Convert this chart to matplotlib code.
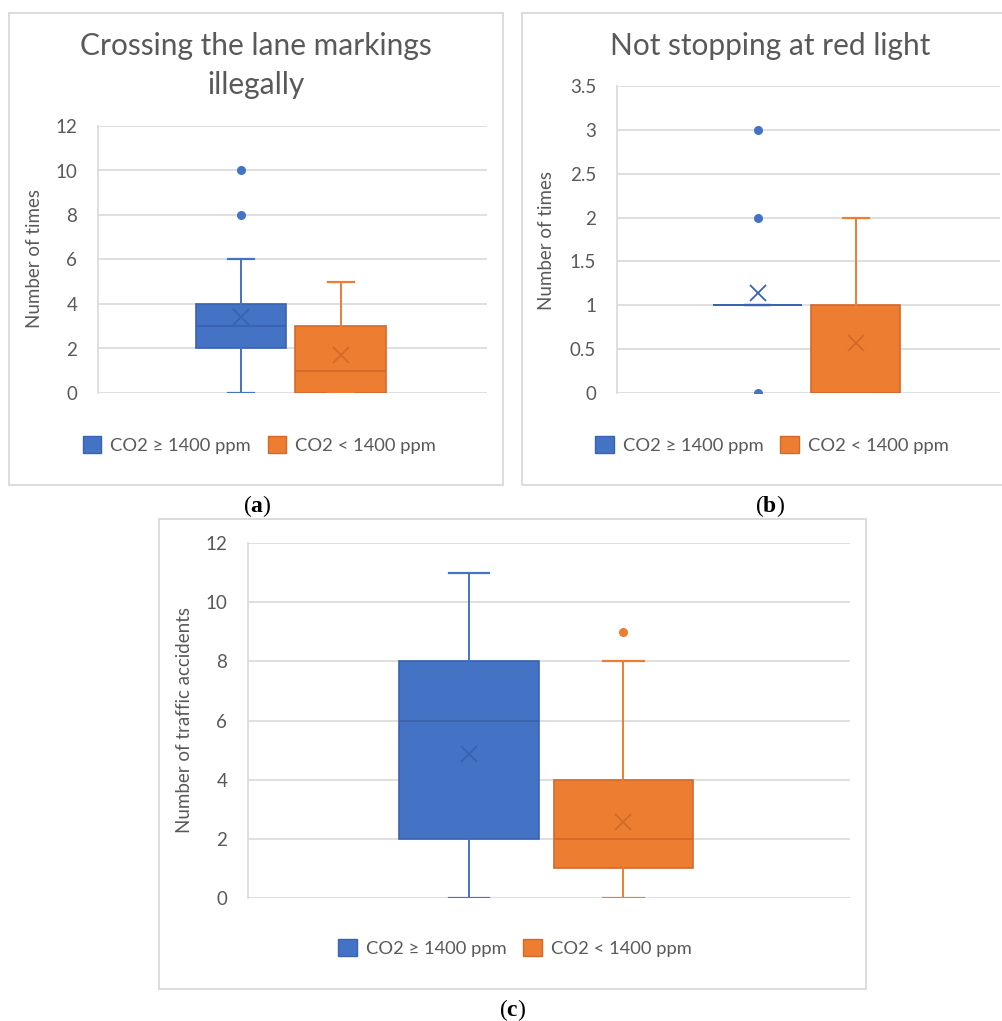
import matplotlib
matplotlib.use("Agg")
import matplotlib.pyplot as plt
from matplotlib.patches import Rectangle, Patch

plt.rcParams['font.family'] = ['Lato', 'DejaVu Sans']
plt.rcParams['mathtext.fontset'] = 'custom'
plt.rcParams['mathtext.rm'] = 'Liberation Serif'
plt.rcParams['mathtext.bf'] = 'Liberation Serif:bold'

# ---------------- data ----------------
series = ['CO2 \u2265 1400 ppm', 'CO2 < 1400 ppm']

a_title = 'Crossing the lane markings\nillegally'
a_whislo = [0, 0]
a_q1 = [2, 0]
a_med = [3, 1]
a_q3 = [4, 3]
a_whishi = [6, 5]
a_mean = [3.43, 1.71]
a_fliers = [[8, 10], []]
a_yticks = [0, 2, 4, 6, 8, 10, 12]
a_yticklabels = ['0', '2', '4', '6', '8', '10', '12']

b_title = 'Not stopping at red light'
b_whislo = [1, 0]
b_q1 = [1, 0]
b_med = [1, 0]
b_q3 = [1, 1]
b_whishi = [1, 2]
b_mean = [1.14, 0.57]
b_fliers = [[0, 2, 3], []]
b_yticks = [0, 0.5, 1, 1.5, 2, 2.5, 3, 3.5]
b_yticklabels = ['0', '0.5', '1', '1.5', '2', '2.5', '3', '3.5']

c_whislo = [0, 0]
c_q1 = [2, 1]
c_med = [6, 2]
c_q3 = [8, 4]
c_whishi = [11, 8]
c_mean = [4.87, 2.57]
c_fliers = [[], [9]]
c_yticks = [0, 2, 4, 6, 8, 10, 12]
c_yticklabels = ['0', '2', '4', '6', '8', '10', '12']

ylabel_ab = 'Number of times'
ylabel_c = 'Number of traffic accidents'
captions = ['a', 'b', 'c']

# ---------------- style ----------------
W, H = 1003, 1021
FACE = ['#4472C4', '#ED7D31']
EDGE = ['#3A63AF', '#D3692A']
TXT = '#595959'
GRID = '#D9D9D9'
TICK_FS = 13.5
LEG_FS = 13.2
YL_FS = 13.5
TITLE_FS = 21.5

fig = plt.figure(figsize=(W / 100, H / 100), dpi=100)
fig.patch.set_facecolor('white')


def rect(l, r, t, b):
    return [l / W, 1 - b / H, (r - l) / W, (b - t) / H]


def frame(l, r, t, b):
    fig.patches.append(Rectangle((l / W, 1 - b / H), (r - l) / W, (b - t) / H,
                                 transform=fig.transFigure, fill=False,
                                 edgecolor=GRID, linewidth=1.3, zorder=0))


positions = [1, 2]
XLIM = (-0.43, 3.466)
BOXW = 0.905


def draw_box(ax, whislo, q1, med, q3, whishi, mean, fliers, yticks, yticklabels, ymax):
    for i in range(2):
        stats = [dict(whislo=whislo[i], q1=q1[i], med=med[i], q3=q3[i],
                      whishi=whishi[i], mean=mean[i], fliers=fliers[i])]
        ax.bxp(stats, positions=[positions[i]], widths=BOXW, patch_artist=True,
               showmeans=True, showfliers=True, capwidths=0.26,
               boxprops=dict(facecolor=FACE[i], edgecolor=EDGE[i], linewidth=1.2),
               medianprops=dict(color=EDGE[i], linewidth=1.3),
               whiskerprops=dict(color=FACE[i], linewidth=1.4),
               capprops=dict(color=FACE[i], linewidth=1.6),
               meanprops=dict(marker='x', markeredgecolor=EDGE[i], markersize=11,
                              markeredgewidth=1.3),
               flierprops=dict(marker='o', markerfacecolor=FACE[i],
                               markeredgecolor=FACE[i], markersize=5.5),
               manage_ticks=False, zorder=3)
    ax.set_xlim(*XLIM)
    ax.set_ylim(0, ymax)
    ax.set_yticks(yticks)
    ax.set_yticklabels(yticklabels)
    ax.set_xticks([])
    ax.yaxis.grid(True, color=GRID, linewidth=1.2, zorder=0)
    ax.set_axisbelow(True)
    for s in ['top', 'right', 'bottom']:
        ax.spines[s].set_visible(False)
    ax.spines['left'].set_color(GRID)
    ax.spines['left'].set_linewidth(1.2)
    ax.tick_params(axis='y', length=0, pad=15, labelsize=TICK_FS, labelcolor=TXT)
    ax.set_facecolor('none')


def legend(ax, cx, cy):
    handles = [Patch(facecolor=FACE[i], edgecolor=EDGE[i], linewidth=1.0) for i in range(2)]
    fig.legend(handles, series, loc='center', bbox_to_anchor=(cx / W, 1 - cy / H),
               ncol=2, frameon=False, fontsize=LEG_FS, labelcolor=TXT,
               handlelength=1.0, handleheight=1.0, handletextpad=0.5,
               columnspacing=0.9, borderaxespad=0, borderpad=0)


# panel a
frame(9, 503, 13, 485)
axa = fig.add_axes(rect(98, 487, 126, 393))
draw_box(axa, a_whislo, a_q1, a_med, a_q3, a_whishi, a_mean, a_fliers,
         a_yticks, a_yticklabels, 12)
fig.text(256 / W, 1 - 55 / H, a_title.split('\n')[0], ha='center', va='baseline',
         fontsize=TITLE_FS, color=TXT)
fig.text(256 / W, 1 - 94 / H, a_title.split('\n')[1], ha='center', va='baseline',
         fontsize=TITLE_FS, color=TXT)
fig.text(35 / W, 1 - 259 / H, ylabel_ab, rotation=90, ha='center', va='center',
         fontsize=YL_FS, color=TXT)
legend(axa, 259.5, 445)

# panel b
frame(522, 1020, 13, 485)
axb = fig.add_axes(rect(617, 1000, 86, 393))
draw_box(axb, b_whislo, b_q1, b_med, b_q3, b_whishi, b_mean, b_fliers,
         b_yticks, b_yticklabels, 3.5)
fig.text(770 / W, 1 - 55 / H, b_title, ha='center', va='baseline',
         fontsize=TITLE_FS, color=TXT)
fig.text(547 / W, 1 - 240 / H, ylabel_ab, rotation=90, ha='center', va='center',
         fontsize=YL_FS, color=TXT)
legend(axb, 772, 445)

# panel c
frame(159, 866, 519, 989)
axc = fig.add_axes(rect(248, 850, 543, 898))
draw_box(axc, c_whislo, c_q1, c_med, c_q3, c_whishi, c_mean, c_fliers,
         c_yticks, c_yticklabels, 12)
fig.text(185 / W, 1 - 720 / H, ylabel_c, rotation=90, ha='center', va='center',
         fontsize=YL_FS, color=TXT)
legend(axc, 515, 948)

# captions
for lab, (cx, cy) in zip(captions, [(257, 506), (770, 506), (513, 1010)]):
    fig.text(cx / W, 1 - cy / H, '($\\mathbf{%s}$)' % lab, ha='center', va='center',
             fontsize=17, color='black', family='Liberation Serif')

fig.savefig('out.png', dpi=100, facecolor='white')
